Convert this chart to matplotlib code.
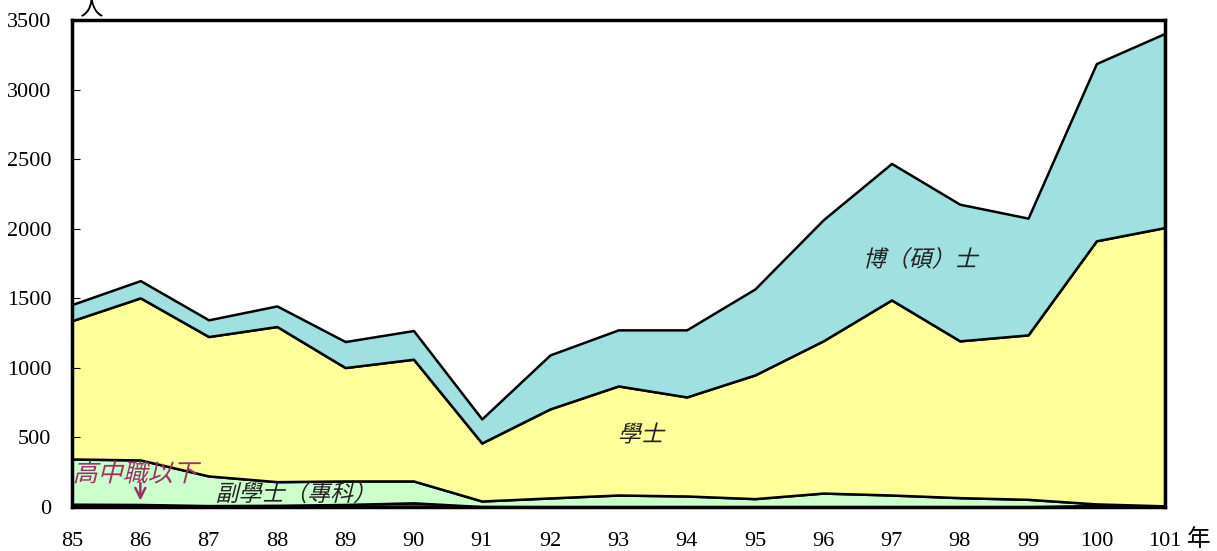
import numpy as np
import matplotlib.pyplot as plt
from matplotlib.textpath import TextPath
from matplotlib.patches import PathPatch
from matplotlib.font_manager import FontProperties
from matplotlib.transforms import Affine2D, ScaledTranslation

plt.rcParams['font.family'] = ['Liberation Serif', 'Noto Sans CJK TC', 'DejaVu Sans']

years = [85, 86, 87, 88, 89, 90, 91, 92, 93, 94, 95, 96, 97, 98, 99, 100, 101]
# 各學歷人數（人）
below_hs = [20, 18, 10, 12, 18, 30, 3, 2, 2, 2, 2, 2, 2, 2, 2, 10, 5]
associate = [325, 320, 213, 170, 169, 157, 40, 63, 84, 77, 58, 98, 84, 65, 53, 12, 3]
bachelor = [994, 1165, 1002, 1115, 815, 875, 417, 640, 784, 712, 889, 1094, 1402, 1127, 1182, 1891, 2000]
graduate = [116, 124, 120, 148, 187, 206, 173, 388, 403, 482, 618, 870, 981, 982, 839, 1274, 1395]

colors = ['#993366', '#CCFFCC', '#FFFF99', '#A0E0E0']

fig = plt.figure(figsize=(12.17, 5.51), dpi=100)
ax = fig.add_axes([0.0592, 0.0799, 0.8978, 0.8838])

ax.stackplot(years, below_hs, associate, bachelor, graduate,
             colors=colors, edgecolor='black', linewidth=1.8)

ax.set_xlim(85, 101)
ax.set_ylim(0, 3500)
ax.set_xticks(years)
ax.set_yticks(np.arange(0, 3501, 500))
ax.tick_params(axis='y', direction='in', length=6, labelsize=16, pad=15)
ax.tick_params(axis='x', length=0, labelsize=16, pad=18)
for s in ax.spines.values():
    s.set_linewidth(2.5)

ax.text(0.018, 1.0, '人', transform=ax.transAxes, fontsize=17,
        ha='center', va='bottom', family=['Noto Sans CJK TC'])
fig.text(0.985, 0.0, '年', fontsize=17, ha='center', va='bottom',
         family=['Noto Sans CJK TC'])

# 斜體中文標示（CJK 字型沒有斜體，用 skew 模擬）
fp = FontProperties(family='Noto Sans CJK TC', weight='light')


def slanted(x, y, s, size=16.5, color='#222222'):
    tp = TextPath((0, 0), s, size=size, prop=fp)
    bb = tp.get_extents()
    tr = (Affine2D().translate(-bb.x0 - bb.width / 2, -bb.y0 - bb.height / 2)
          .skew_deg(14, 0).scale(fig.dpi / 72)
          + ScaledTranslation(x, y, ax.transData))
    ax.add_patch(PathPatch(tp, transform=tr, facecolor=color, edgecolor='none', zorder=5))


slanted(97.45, 1790, '博（碩）士')
slanted(93.36, 532, '學士')
slanted(88.2, 105, '副學士（專科）')
slanted(85.96, 252, '高中職以下', size=18, color='#993366')
ax.annotate('', xy=(86, 45), xytext=(86, 172),
            arrowprops=dict(arrowstyle='->', color='#993366', lw=1.8,
                            shrinkA=0, shrinkB=0, mutation_scale=18))

plt.savefig('out.png')
